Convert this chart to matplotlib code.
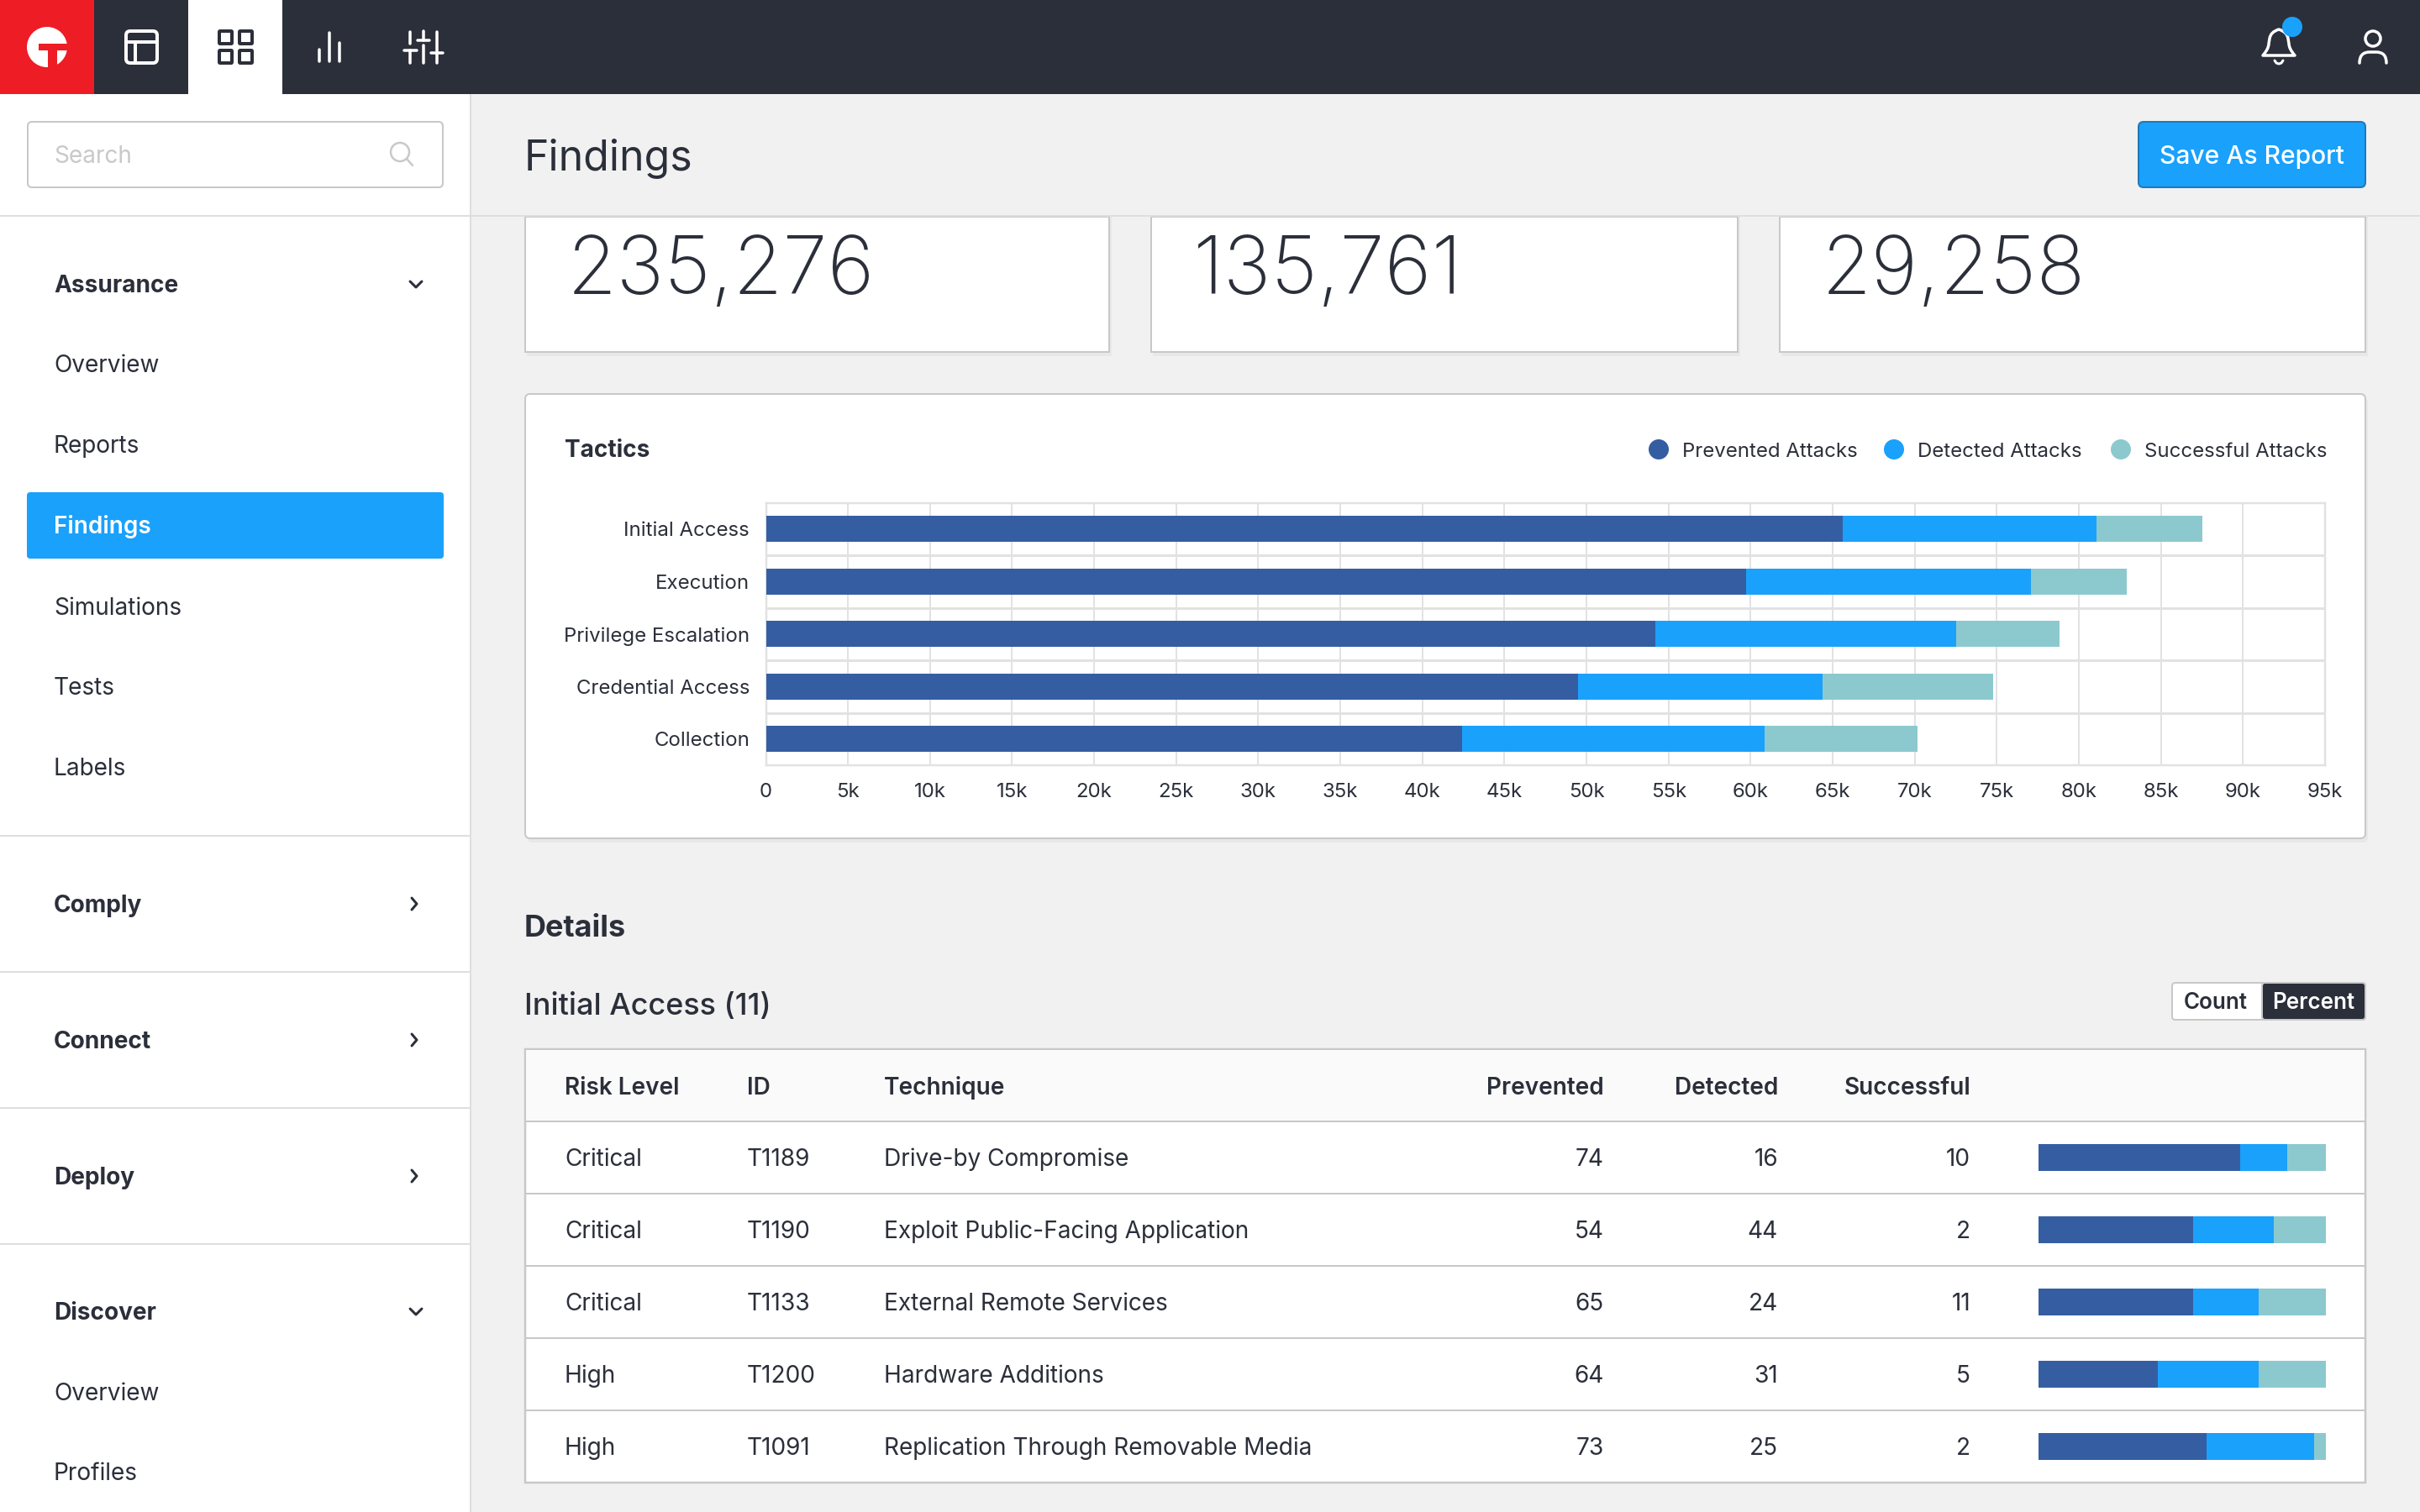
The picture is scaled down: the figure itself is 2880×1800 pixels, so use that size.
import matplotlib
matplotlib.use("Agg")
import matplotlib.pyplot as plt
from matplotlib.patches import Rectangle, Circle, FancyBboxPatch, PathPatch
from matplotlib.path import Path

plt.rcParams['font.family'] = ['Inter', 'DejaVu Sans']

# tactics chart, values in thousands
tactics = ["Initial Access", "Execution", "Privilege Escalation", "Credential Access", "Collection"]
prevented_k = [65.6, 59.7, 54.2, 49.5, 42.4]
detected_k = [15.45, 17.4, 18.3, 14.9, 18.45]
successful_k = [6.45, 5.8, 6.3, 10.4, 9.3]
xticks_k = list(range(0, 96, 5))
xtick_labels = ["0"] + [f"{v}k" for v in xticks_k[1:]]
legend_labels = ["Prevented Attacks", "Detected Attacks", "Successful Attacks"]

# details table
headers = ["Risk Level", "ID", "Technique", "Prevented", "Detected", "Successful"]
risk = ["Critical", "Critical", "Critical", "High", "High"]
ids = ["T1189", "T1190", "T1133", "T1200", "T1091"]
techniques = ["Drive-by Compromise", "Exploit Public-Facing Application", "External Remote Services",
              "Hardware Additions", "Replication Through Removable Media"]
prevented_n = [74, 54, 65, 64, 73]
detected_n = [16, 44, 24, 31, 25]
successful_n = [10, 2, 11, 5, 2]
# the small bars do not follow the numbers in the table
mini_prevented = [70.1, 53.8, 53.8, 41.6, 58.4]
mini_detected = [16.5, 28.1, 22.8, 35.0, 37.5]
mini_successful = [13.4, 18.1, 23.4, 23.4, 4.1]

card_numbers = ["235,276", "135,761", "29,258"]
nav_top = ["Overview", "Reports", "Findings", "Simulations", "Tests", "Labels"]

DARK = "#2b2f3a"
NAVY = "#355ea2"
BLUE = "#1aa1fb"
TEAL = "#8cc9cf"
LINE = "#c8c8c8"
SOFT = "#dedede"
BG = "#f1f1f1"
COLORS = [NAVY, BLUE, TEAL]

fig = plt.figure(figsize=(28.8, 18), dpi=100, facecolor=BG)
ui = fig.add_axes([0, 0, 1, 1])
ui.set_xlim(0, 2880)
ui.set_ylim(1800, 0)
ui.axis("off")


def px(v):
    return v * 0.72


def txt(x, y, s, size, color=DARK, weight="normal", ha="left"):
    ui.text(x, y + 0.36 * size, s, fontsize=px(size), color=color, fontweight=weight, ha=ha, va="baseline")


def rect(x0, y0, x1, y1, fc, ec="none", lw=0, z=1):
    ui.add_patch(Rectangle((x0, y0), x1 - x0, y1 - y0, fc=fc, ec=ec, lw=px(lw), zorder=z))


def rrect(x0, y0, x1, y1, fc, ec="none", lw=2, r=6, z=1):
    ui.add_patch(FancyBboxPatch((x0, y0), x1 - x0, y1 - y0, boxstyle=f"round,pad=0,rounding_size={r}",
                                fc=fc, ec=ec, lw=px(lw), zorder=z))


def stroke(xs, ys, color="white", lw=4, z=3):
    ui.plot(xs, ys, color=color, lw=px(lw), solid_capstyle="round", solid_joinstyle="round", zorder=z)


# top bar
rect(0, 0, 2880, 112, DARK)
rect(0, 0, 112, 112, "#ee1c25")
rect(224, 0, 336, 112, "white")
ui.add_patch(Circle((56, 56), 24, fc="white", ec="none", zorder=2))
rect(46, 52, 81, 60, "#ee1c25", z=3)
rect(57, 60, 68, 81, "#ee1c25", z=3)

rrect(150, 37, 187, 75, "none", "white", lw=4, r=5, z=3)
stroke([150, 187], [50, 50])
stroke([161, 161], [50, 75])

for x0 in (261, 285):
    for y0 in (37, 60):
        rrect(x0, y0, x0 + 15, y0 + 15, "none", DARK, lw=4, r=1, z=3)

stroke([380, 380], [59, 73], lw=3.5)
stroke([392, 392], [39, 73], lw=3.5)
stroke([404, 404], [51, 73], lw=3.5)

stroke([488, 488], [38, 52], lw=3.5)
stroke([488, 488], [60, 75], lw=3.5)
stroke([481, 496], [60, 60], lw=3.5)
stroke([503.5, 503.5], [37, 48], lw=3.5)
stroke([503.5, 503.5], [54, 75], lw=3.5)
stroke([497, 511], [48, 48], lw=3.5)
stroke([520, 520], [38, 62], lw=3.5)
stroke([520, 520], [64, 75], lw=3.5)
stroke([513, 527], [63, 63], lw=3.5)

# bell and user
bell = Path([(2693, 66), (2700, 58), (2700, 52), (2701, 46), (2702, 38), (2712, 35), (2712, 35),
             (2712, 35), (2722, 38), (2723, 46), (2724, 52), (2724, 58), (2731, 66), (2693, 66)],
            [Path.MOVETO, Path.CURVE3, Path.CURVE3, Path.LINETO, Path.CURVE3, Path.CURVE3, Path.LINETO,
             Path.LINETO, Path.CURVE3, Path.CURVE3, Path.LINETO, Path.CURVE3, Path.CURVE3, Path.CLOSEPOLY])
ui.add_patch(PathPatch(bell, fc="none", ec="white", lw=px(3.5), joinstyle="round", zorder=3))
stroke([2707, 2709, 2712, 2715, 2717], [72, 75, 76, 75, 72], lw=3)
ui.add_patch(Circle((2728, 32), 12, fc=BLUE, ec="none", zorder=4))
ui.add_patch(Circle((2824, 46), 9, fc="none", ec="white", lw=px(3.5), zorder=3))
user = Path([(2808, 75), (2808, 62), (2820, 62), (2828, 62), (2840, 62), (2840, 75)],
            [Path.MOVETO, Path.CURVE3, Path.CURVE3, Path.LINETO, Path.CURVE3, Path.CURVE3])
ui.add_patch(PathPatch(user, fc="none", ec="white", lw=px(3.5), capstyle="round", zorder=3))

# sidebar
rect(0, 112, 560, 1800, "white")
rect(559, 112, 561, 1800, SOFT)
rect(0, 256, 2880, 258, SOFT, z=2)
rrect(33, 145, 527, 223, "white", LINE, lw=2, r=5)
txt(64, 184, "Search", 28, color="#c9c9c9")
ui.add_patch(Circle((476, 181), 11, fc="none", ec="#c9c9c9", lw=px(2.5), zorder=3))
stroke([484, 491], [189, 197], color="#c9c9c9", lw=2.5)

rrect(32, 586, 528, 665, BLUE, "none", r=4)
nav_y = [433, 529, 625, 722, 817, 913]
for name, y in zip(nav_top, nav_y):
    if name == "Findings":
        txt(64, y, name, 28, color="white", weight="semibold")
    else:
        txt(64, y, name, 28)

for name, y, is_open in [("Assurance", 338, True), ("Comply", 1076, False), ("Connect", 1238, False),
                         ("Deploy", 1400, False), ("Discover", 1561, True)]:
    txt(64, y, name, 28, weight="bold")
    if is_open:
        stroke([488, 495, 502], [335, 342, 335] if y == 338 else [1558, 1565, 1558], color=DARK, lw=3)
    else:
        stroke([490, 496, 490], [y - 7, y, y + 7], color=DARK, lw=3)
txt(64, 1657, "Overview", 28)
txt(64, 1752, "Profiles", 28)
for y in (995, 1157, 1319, 1481):
    rect(0, y - 1, 560, y + 1, SOFT)

# page header
txt(624, 185, "Findings", 50)
rrect(2545, 145, 2815, 223, BLUE, "#1f78b8", lw=2, r=6)
txt(2680, 184, "Save As Report", 30, color="white", weight="medium", ha="center")

# stat cards, cut off by the header
for (x0, x1), number in zip([(625, 1320), (1370, 2068), (2118, 2815)], card_numbers):
    rect(x0 + 2, 258, x1 + 3, 424, "#e8e8e8")
    rect(x0, 258, x1, 419, "white", LINE, lw=2, z=1.5)
    ui.text(x0 + 50, 350, number, fontsize=px(96), color=DARK, fontweight="light", ha="left", va="baseline")

# tactics card
rrect(628, 474, 2818, 1003, "#e8e8e8", r=6)
rrect(625, 469, 2815, 998, "white", LINE, lw=2, r=6)
txt(672, 534, "Tactics", 28, weight="bold")
for label, color, cx, tx in zip(legend_labels, COLORS, (1974, 2254, 2524), (2002, 2282, 2552)):
    ui.add_patch(Circle((cx, 535), 12, fc=color, ec="none", zorder=3))
    txt(tx, 535, label, 24)

ax = fig.add_axes([911.5 / 2880, 1 - 911.0 / 1800, (2767 - 911.5) / 2880, (911.0 - 598.6) / 1800])
rows = list(range(len(tactics)))
left = [0] * len(tactics)
for vals, color in zip([prevented_k, detected_k, successful_k], COLORS):
    ax.barh(rows, vals, left=left, height=0.5, color=color, zorder=3)
    left = [a + b for a, b in zip(left, vals)]
ax.set_xlim(0, 95)
ax.set_ylim(4.5, -0.5)
ax.set_xticks(xticks_k)
ax.set_xticklabels(xtick_labels, fontsize=px(24), color=DARK)
ax.set_yticks(rows)
ax.set_yticklabels(tactics, fontsize=px(24), color=DARK)
ax.set_yticks([0.5, 1.5, 2.5, 3.5], minor=True)
ax.tick_params(axis="both", which="both", length=0)
ax.tick_params(axis="x", pad=15)
ax.tick_params(axis="y", pad=14)
ax.grid(True, axis="x", color="#e2e2e2", lw=px(2), zorder=0)
ax.grid(True, axis="y", which="minor", color="#e2e2e2", lw=px(3), zorder=0)
for s in ax.spines.values():
    s.set_color("#e2e2e2")
    s.set_linewidth(px(2.5))

# details
txt(624, 1102, "Details", 36, weight="bold")
txt(624, 1195, "Initial Access (11)", 36, weight="medium")
rrect(2585, 1170, 2815, 1214, "white", LINE, lw=2, r=4)
rrect(2692, 1170, 2815, 1214, DARK, LINE, lw=2, r=4, z=1.5)
txt(2637, 1192, "Count", 26, weight="semibold", ha="center")
txt(2753, 1192, "Percent", 26, color="white", weight="semibold", ha="center")

# table
rect(625, 1249, 2815, 1765, "white", LINE, lw=2.5)
rect(626, 1250, 2814, 1335, "#fafafa", z=1.5)
row_lines = [1335, 1421, 1507, 1593, 1679]
for y in row_lines:
    rect(625, y - 1, 2815, y + 1, LINE, z=2)
col_x = [672, 889, 1052, 1909, 2116, 2345]
for name, x, ha in zip(headers, col_x, ["left"] * 3 + ["right"] * 3):
    txt(x, 1293, name, 28, weight="semibold", ha=ha)
row_y = [1378, 1464, 1550, 1636, 1722]
for i, y in enumerate(row_y):
    txt(col_x[0], y, risk[i], 28)
    txt(col_x[1], y, ids[i], 28)
    txt(col_x[2], y, techniques[i], 28)
    txt(col_x[3], y, str(prevented_n[i]), 28, ha="right")
    txt(col_x[4], y, str(detected_n[i]), 28, ha="right")
    txt(col_x[5], y, str(successful_n[i]), 28, ha="right")

mini = fig.add_axes([2426 / 2880, 1 - 1765.0 / 1800, (2768 - 2426) / 2880, (1765.0 - 1335) / 1800])
mini.patch.set_alpha(0)
left = [0] * len(risk)
for vals, color in zip([mini_prevented, mini_detected, mini_successful], COLORS):
    mini.barh(range(len(risk)), vals, left=left, height=0.372, color=color)
    left = [a + b for a, b in zip(left, vals)]
mini.set_xlim(0, 100)
mini.set_ylim(4.5, -0.5)
mini.axis("off")

fig.savefig("out.png", dpi=100, facecolor=BG)
